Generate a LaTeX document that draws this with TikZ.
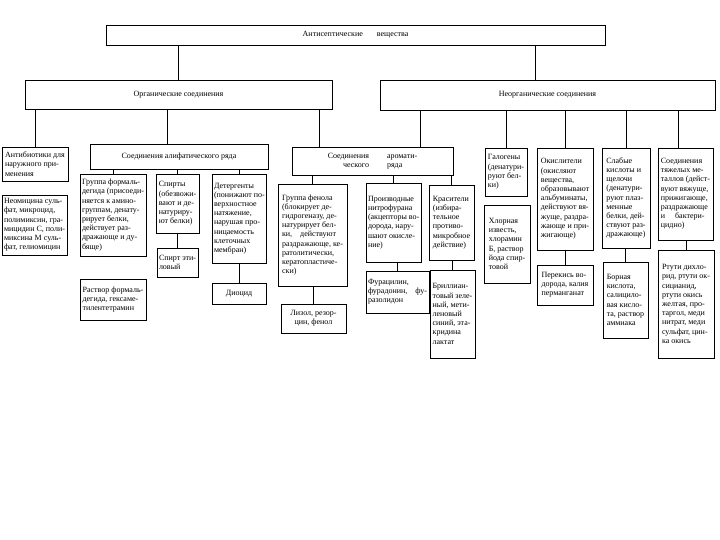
\documentclass[tikz,border=0pt]{standalone}
\usepackage{fontspec}
\setmainfont{Liberation Serif}
\begin{document}
\begin{tikzpicture}[x=1pt,y=-1pt,
  box/.style={draw, line width=0.9pt, anchor=north west, inner sep=2pt, outer sep=0pt, align=left, font=\fontsize{8}{9.2}\selectfont},
  head/.style={box, align=center, font=\fontsize{8}{9}\selectfont},
  conn/.style={line width=0.6pt}]
\useasboundingbox (0,0) rectangle (720,540);

% level 0 and 1
\node[head, minimum width=499, minimum height=20] (top) at (106,25) {Антисептические\hspace{14pt}вещества};
\node[head, minimum width=307, minimum height=29] (org) at (25,80) {Органические соединения};
\node[head, minimum width=335, minimum height=30] (inorg) at (380,80) {Неорганические соединения};

% level 2
\node[box, minimum width=66, minimum height=34] (anti) at (2,147) {Антибиотики для\\наружного при-\\менения};
\node[head, minimum width=178, minimum height=25] (aliph) at (90,144) {Соединения алифатического ряда};
\node[head, minimum width=161, minimum height=28] (arom) at (292,147)
  {\begin{tabular}{@{}r@{\hspace{18pt}}l@{}}Соединения & аромати-\\ ческого & ряда\end{tabular}};
\node[box, minimum width=42, minimum height=48] (gal) at (485,148) {Галогены\\(денатури-\\руют бел-\\ки)};
\node[box, minimum width=56, minimum height=102] (oxid) at (537,148) {Окислители\\(окисляют\\вещества,\\образовывают\\альбуминаты,\\действуют вя-\\жуще, раздра-\\жающе и при-\\жигающе)};
\node[box, minimum width=48, minimum height=100] (weak) at (602,148) {Слабые\\кислоты и\\щелочи\\(денатури-\\руют плаз-\\менные\\белки, дей-\\ствуют раз-\\дражающе)};
\node[box, minimum width=55, minimum height=92] (heavy) at (658,148) {Соединения\\тяжелых ме-\\таллов (дейст-\\вуют вяжуще,\\прижигающе,\\раздражающе\\и\hspace{10pt}бактери-\\цидно)};

% level 3
\node[box, minimum width=65, minimum height=60] (neo) at (2,195) {Неомицина суль-\\фат, микроцид,\\полимиксин, гра-\\мицидин С, поли-\\миксина М суль-\\фат, гелиомицин};
\node[box, minimum width=65, minimum height=82] (formal) at (80,174) {Группа формаль-\\дегида (присоеди-\\няется к амино-\\группам, денату-\\рирует белки,\\действует раз-\\дражающе и ду-\\бяще)};
\node[box, minimum width=43, minimum height=59] (spirit) at (156,174) {Спирты\\(обезвожи-\\вают и де-\\натуриру-\\ют белки)};
\node[box, minimum width=53, minimum height=89] (deterg) at (212,174) {Детергенты\\(понижают по-\\верхностное\\натяжение,\\нарушая про-\\ницаемость\\клеточных\\мембран)};
\node[box, minimum width=69, minimum height=102] (phenol) at (278,184) {Группа фенола\\(блокирует де-\\гидрогеназу, де-\\натурирует бел-\\ки,\hspace{8pt}действуют\\раздражающе, ке-\\ратолитически,\\кератопластиче-\\ски)};
\node[box, minimum width=55, minimum height=79] (nitro) at (366,183) {Производные\\нитрофурана\\(акцепторы во-\\дорода, нару-\\шают окисле-\\ние)};
\node[box, minimum width=45, minimum height=75] (dye) at (429,185) {Красители\\(избира-\\тельное\\противо-\\микробное\\действие)};
\node[box, minimum width=46, minimum height=78] (chlor) at (484,205) {Хлорная\\известь,\\хлорамин\\Б, раствор\\йода спир-\\товой};

% level 4
\node[box, minimum width=41, minimum height=29] (ethanol) at (157,248) {Спирт эти-\\ловый};
\node[box, minimum width=66, minimum height=41] (formsol) at (80,279) {Раствор формаль-\\дегида, гексаме-\\тилентетрамин};
\node[box, align=center, minimum width=54, minimum height=21] (dioc) at (212,283) {Диоцид};
\node[box, align=center, minimum width=65, minimum height=29] (lysol) at (281,304) {Лизол, резор-\\цин, фенол};
\node[box, minimum width=56, minimum height=42] (furac) at (366,271) {Фурацилин,\\фурадонин,\hspace{8pt}фу-\\разолидон};
\node[box, minimum width=45, minimum height=88] (brill) at (430,270) {Бриллиан-\\товый зеле-\\ный, мети-\\леновый\\синий, эта-\\кридина\\лактат};
\node[box, minimum width=56, minimum height=40] (perox) at (537,265) {Перекись во-\\дорода, калия\\перманганат};
\node[box, minimum width=45, minimum height=76] (boric) at (603,262) {Борная\\кислота,\\салицило-\\вая кисло-\\та, раствор\\аммиака};
\node[box, minimum width=56, minimum height=108] (hg) at (658,250) {Ртути дихло-\\рид, ртути ок-\\сицианид,\\ртути окись\\желтая, про-\\таргол, меди\\нитрат, меди\\сульфат, цин-\\ка окись};

% connectors
\draw[conn] (org.north) -- (org.north |- top.south);
\draw[conn] ([xshift=155pt]inorg.north west) coordinate (c1) -- (c1 |- top.south);
\draw[conn] (anti.north) -- (anti.north |- org.south);
\draw[conn] ([xshift=77pt]aliph.north west) coordinate (c2) -- (c2 |- org.south);
\draw[conn] ([xshift=27pt]arom.north west) coordinate (c3) -- (c3 |- org.south);
\draw[conn] ([xshift=128pt]arom.north west) coordinate (c4) -- (c4 |- inorg.south);
\draw[conn] (gal.north) -- (gal.north |- inorg.south);
\draw[conn] (oxid.north) -- (oxid.north |- inorg.south);
\draw[conn] (weak.north) -- (weak.north |- inorg.south);
\draw[conn] ([xshift=-7pt]heavy.north) coordinate (c5) -- (c5 |- inorg.south);
\draw[conn] (formal.north) -- (formal.north |- aliph.south);
\draw[conn] (spirit.north) -- (spirit.north |- aliph.south);
\draw[conn] (deterg.north) -- (deterg.north |- aliph.south);
\draw[conn] (ethanol.north) -- (ethanol.north |- spirit.south);
\draw[conn] (dioc.north) -- (dioc.north |- deterg.south);
\draw[conn] (phenol.north) -- (phenol.north |- arom.south);
\draw[conn] (nitro.north) -- (nitro.north |- arom.south);
\draw[conn] (dye.north) -- (dye.north |- arom.south);
\draw[conn] (lysol.north) -- (lysol.north |- phenol.south);
\draw[conn] (furac.north) -- (furac.north |- nitro.south);
\draw[conn] (brill.north) -- (brill.north |- dye.south);
\draw[conn] (perox.north) -- (perox.north |- oxid.south);
\draw[conn] (boric.north) -- (boric.north |- weak.south);
\draw[conn] (hg.north) -- (hg.north |- heavy.south);
\end{tikzpicture}
\end{document}
